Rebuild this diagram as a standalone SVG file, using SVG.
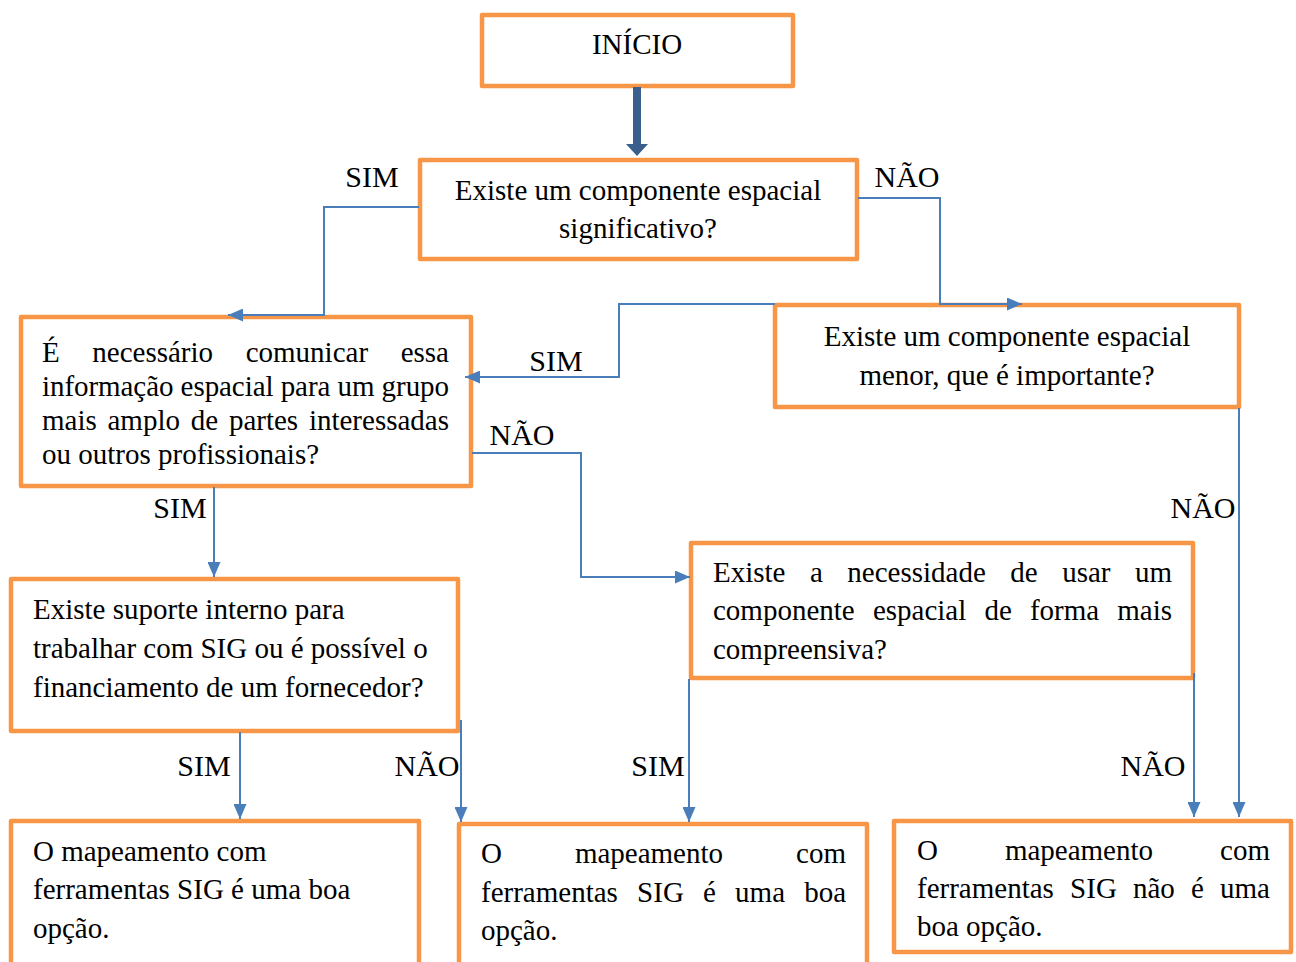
<svg xmlns="http://www.w3.org/2000/svg" width="1296" height="962" viewBox="0 0 1296 962">
<style>
.box{fill:#fff;stroke:#F79646;stroke-width:4.5;stroke-linejoin:round}
.t{font-family:"Liberation Serif","Times New Roman",serif;font-size:29px;fill:#000}
.lbl{font-family:"Liberation Serif","Times New Roman",serif;font-size:30px;fill:#000}
.c{fill:none;stroke:#4A7EBB;stroke-width:2;marker-end:url(#ah)}
.mid{text-anchor:middle}
.end{text-anchor:end}
</style>
<defs>
<marker id="ah" markerUnits="userSpaceOnUse" viewBox="0 0 15 13" refX="15" refY="6.5" markerWidth="15" markerHeight="13" orient="auto">
<path d="M0,0 L15,6.5 L0,13 z" fill="#4A7EBB"/>
</marker>
</defs>
<rect width="1296" height="962" fill="#fff"/>

<g id="inicio">
<rect class="box" x="482" y="15" width="311" height="71"/>
<text class="t mid" x="637" y="54">INÍCIO</text>
</g>

<g id="q1">
<rect class="box" x="420" y="160" width="437" height="99"/>
<text class="t mid" x="638" y="200">Existe um componente espacial</text>
<text class="t mid" x="638" y="238">significativo?</text>
</g>

<g id="q2">
<rect class="box" x="21" y="317" width="450" height="169"/>
<text class="t" y="362"><tspan x="42">É</tspan><tspan x="92.3">necessário</tspan><tspan x="245.7">comunicar</tspan><tspan x="449" text-anchor="end">essa</tspan></text>
<text class="t" x="42" y="396" textLength="407" lengthAdjust="spacing">informação espacial para um grupo</text>
<text class="t" y="430"><tspan x="42">mais</tspan><tspan x="107.5">amplo</tspan><tspan x="190.8">de</tspan><tspan x="228.9">partes</tspan><tspan x="449" text-anchor="end">interessadas</tspan></text>
<text class="t" x="42" y="464">ou outros profissionais?</text>
</g>

<g id="q3">
<rect class="box" x="775" y="305" width="464" height="102"/>
<text class="t mid" x="1007" y="346">Existe um componente espacial</text>
<text class="t mid" x="1007" y="385">menor, que é importante?</text>
</g>

<g id="q4">
<rect class="box" x="11" y="579" width="447" height="152"/>
<text class="t" x="33" y="619">Existe suporte interno para</text>
<text class="t" x="33" y="658">trabalhar com SIG ou é possível o</text>
<text class="t" x="33" y="697">financiamento de um fornecedor?</text>
</g>

<g id="q5">
<rect class="box" x="691" y="543" width="502" height="135"/>
<text class="t" y="582"><tspan x="713">Existe</tspan><tspan x="810">a</tspan><tspan x="847.3">necessidade</tspan><tspan x="1010.3">de</tspan><tspan x="1062.2">usar</tspan><tspan x="1172" text-anchor="end">um</tspan></text>
<text class="t" y="620"><tspan x="713">componente</tspan><tspan x="872.9">espacial</tspan><tspan x="984.4">de</tspan><tspan x="1029.9">forma</tspan><tspan x="1172" text-anchor="end">mais</tspan></text>
<text class="t" x="713" y="659">compreensiva?</text>
</g>

<g id="r1">
<rect class="box" x="11" y="821" width="408" height="170"/>
<text class="t" x="33" y="861">O mapeamento com</text>
<text class="t" x="33" y="899">ferramentas SIG é uma boa</text>
<text class="t" x="33" y="938">opção.</text>
</g>

<g id="r2">
<rect class="box" x="459" y="824" width="408" height="170"/>
<text class="t" y="863"><tspan x="481">O</tspan><tspan x="574.9">mapeamento</tspan><tspan x="846" text-anchor="end">com</tspan></text>
<text class="t" y="902"><tspan x="481">ferramentas</tspan><tspan x="637.1">SIG</tspan><tspan x="703">é</tspan><tspan x="735.1">uma</tspan><tspan x="846" text-anchor="end">boa</tspan></text>
<text class="t" x="481" y="940">opção.</text>
</g>

<g id="r3">
<rect class="box" x="894" y="821" width="397" height="131"/>
<text class="t" y="860"><tspan x="917">O</tspan><tspan x="1004.9">mapeamento</tspan><tspan x="1270" text-anchor="end">com</tspan></text>
<text class="t" y="898"><tspan x="917">ferramentas</tspan><tspan x="1070.1">SIG</tspan><tspan x="1133">não</tspan><tspan x="1191.1">é</tspan><tspan x="1270" text-anchor="end">uma</tspan></text>
<text class="t" x="917" y="936">boa opção.</text>
</g>

<g id="labels">
<text class="lbl mid" x="372" y="187">SIM</text>
<text class="lbl mid" x="907" y="187">NÃO</text>
<text class="lbl mid" x="556" y="371">SIM</text>
<text class="lbl mid" x="522" y="445">NÃO</text>
<text class="lbl mid" x="180" y="518">SIM</text>
<text class="lbl mid" x="1203" y="518">NÃO</text>
<text class="lbl mid" x="204" y="776">SIM</text>
<text class="lbl mid" x="427" y="776">NÃO</text>
<text class="lbl mid" x="658" y="776">SIM</text>
<text class="lbl mid" x="1153" y="776">NÃO</text>
</g>

<g id="connectors">
<path d="M633,87 H641 V144 H648 L637,156 L626,144 H633 Z" fill="#3B5F8D"/>
<path class="c" d="M419,207 H324 V315 H228"/>
<path class="c" d="M858,198 H940 V304 H1022"/>
<path class="c" d="M775,304 H619 V377 H465"/>
<path class="c" d="M472,453 H581 V577 H690"/>
<path class="c" d="M214,487 V577"/>
<path class="c" d="M240,732 V819"/>
<path class="c" d="M461,720 V822"/>
<path class="c" d="M689,679 V822"/>
<path class="c" d="M1194,673 V817"/>
<path class="c" d="M1239,408 V817"/>
</g>
</svg>
